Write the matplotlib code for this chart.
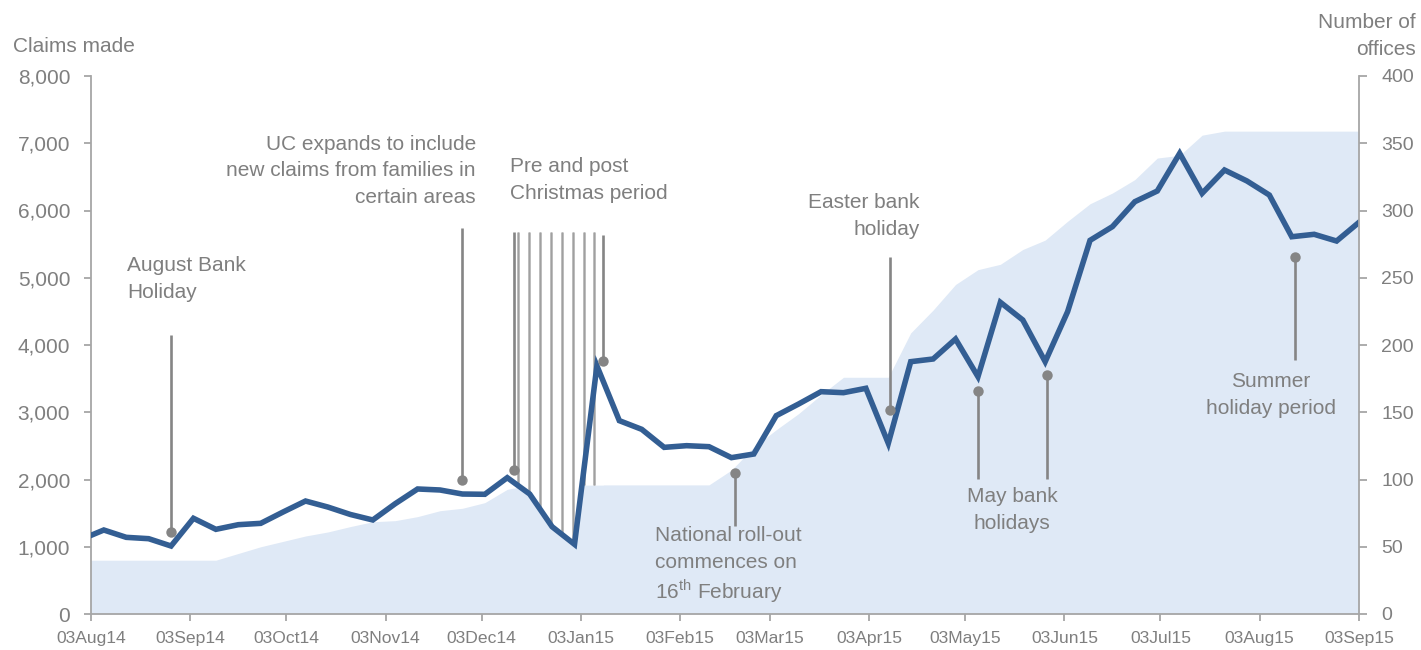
import matplotlib
matplotlib.use('Agg')
import matplotlib.pyplot as plt
import matplotlib.dates as mdates
import numpy as np
import pandas as pd
from matplotlib.ticker import FuncFormatter, MultipleLocator

plt.rcParams['font.family'] = ['Liberation Sans', 'DejaVu Sans']
plt.rcParams['mathtext.fontset'] = 'custom'
plt.rcParams['mathtext.rm'] = 'Liberation Sans'

# ---------------- data ----------------
week_dates = pd.date_range('2014-07-31', '2015-09-03', freq='7D')
claims = [1110, 1249, 1140, 1120, 1011, 1423, 1259, 1328, 1348, 1517,
          1680, 1590, 1480, 1398, 1640, 1859, 1844, 1784, 1780, 2027,
          1784, 1298, 1036, 3690, 2875, 2746, 2478, 2503, 2488, 2325,
          2379, 2949, 3123, 3306, 3291, 3356, 2538, 3752, 3792, 4089,
          3529, 4635, 4372, 3752, 4496, 5556, 5760, 6131, 6290, 6850,
          6255, 6602, 6439, 6230, 5610, 5646, 5546, 5824]
offices = [40, 40, 40, 40, 40, 40, 40, 45, 50, 54,
           58, 61, 65, 68.6, 69.4, 72.4, 76.8, 78.6, 82.8, 92.7,
           96, 96, 96, 96, 96, 96, 96, 96, 96, 107,
           124, 137, 149, 163, 176, 176, 176, 209, 226, 245,
           256, 260, 271, 278, 292, 305, 313, 323, 339, 341,
           356, 359, 359, 359, 359, 359, 359, 359]

tick_dates = pd.date_range('2014-08-03', periods=14, freq=pd.DateOffset(months=1))

# annotations: (date, dot value in claims, other end of stick in claims)
annotations = [
    ('2014-08-28', 1219, 4150),   # August bank holiday
    ('2014-11-27', 1988, 5740),   # UC expands
    ('2014-12-13', 2141, 5680),   # Christmas start
    ('2015-01-10', 3766, 5636),   # Christmas end
    ('2015-02-20', 2092, 1309),   # National roll-out
    ('2015-04-09 12:00', 3033, 5309),  # Easter
    ('2015-05-07', 3321, 2007),   # May bank holiday 1
    ('2015-05-28 12:00', 3554, 2007),  # May bank holiday 2
    ('2015-08-14', 5313, 3777),   # Summer holiday
]
xmas_start, xmas_end = '2014-12-13', '2015-01-10'
hatch_top = 5680

# ---------------- figure ----------------
W, H = 1421, 650
fig = plt.figure(figsize=(W / 100, H / 100), dpi=100)
L, R, B, T = 91, 1359, 614, 76
ax = fig.add_axes([L / W, 1 - B / H, (R - L) / W, (B - T) / H])
ax2 = ax.twinx()

GREY_TXT = '#7F7F7F'
GREY_AX = '#A6A6A6'
LINE_C = '#335E93'
AREA_C = '#DFE9F6'

xd = mdates.date2num(week_dates)
claims = np.array(claims, float)
off_c = np.array(offices, float) * 20.0  # offices on the claims scale (400 -> 8000)

ax.fill_between(xd, 0, off_c, color=AREA_C, lw=0, zorder=1)

# Christmas hatched region
xs, xe = mdates.date2num(pd.Timestamp(xmas_start)), mdates.date2num(pd.Timestamp(xmas_end))
xg = np.linspace(xs, xe, 300)
bottom = np.minimum(np.interp(xg, xd, claims), np.interp(xg, xd, off_c))
ax.fill_between(xg, bottom, hatch_top, color='white', lw=0, zorder=2)
for xv in np.linspace(xs + 1.5, xe - 2.8, 8):
    b = min(np.interp(xv, xd, claims), np.interp(xv, xd, off_c))
    ax.plot([xv, xv], [b, hatch_top], color='#B8B8B8', lw=2.0, zorder=3,
            solid_capstyle='butt')
    ax.plot([xv, xv], [b, hatch_top], color='#A0A0A0', lw=0.8, zorder=3,
            solid_capstyle='butt')

ax.plot(xd, claims, color=LINE_C, lw=4.0, zorder=4, solid_joinstyle='miter')

for d, v, e in annotations:
    xv = mdates.date2num(pd.Timestamp(d))
    ax.plot([xv, xv], [v, e], color='#858585', lw=1.9, zorder=5, solid_capstyle='butt')
    ax.plot([xv], [v], 'o', color='#858585', ms=7.5, mec='none', zorder=6)

# axes styling
ax.set_xlim(mdates.date2num(pd.Timestamp('2014-08-03')), mdates.date2num(pd.Timestamp('2015-09-03')))
ax.set_ylim(0, 8000)
ax2.set_ylim(0, 400)
ax.set_xticks(mdates.date2num(tick_dates))
ax.xaxis.set_major_formatter(mdates.DateFormatter('%d%b%y'))
ax.yaxis.set_major_locator(MultipleLocator(1000))
ax.yaxis.set_major_formatter(FuncFormatter(lambda v, p: f'{int(v):,}'))
ax2.yaxis.set_major_locator(MultipleLocator(50))

for a in (ax, ax2):
    for s in a.spines.values():
        s.set_color(GREY_AX)
        s.set_linewidth(1.3)
    a.spines['top'].set_visible(False)
ax.spines['right'].set_visible(False)
ax2.spines['left'].set_visible(False)
ax2.spines['bottom'].set_visible(False)

ax.tick_params(axis='y', colors=GREY_AX, labelcolor=GREY_TXT, labelsize=15,
               length=5, width=1.3, pad=10)
ax.tick_params(axis='x', colors=GREY_AX, labelcolor=GREY_TXT, labelsize=12.6,
               length=5, width=1.3, pad=7)
ax2.tick_params(axis='y', colors=GREY_AX, labelcolor=GREY_TXT, labelsize=14,
                length=6, width=1.3, pad=10)
ax.patch.set_visible(False)


def ftext(px, py, s, ha='left', size=15, ls=1.52):
    fig.text(px / W, 1 - py / H, s, ha=ha, va='center', color=GREY_TXT,
             fontsize=size, linespacing=ls, multialignment=ha)


ftext(13, 47, 'Claims made')
ftext(1416, 36, 'Number of\noffices', ha='right')
ftext(127, 279, 'August Bank\nHoliday')
ftext(476, 171, 'UC expands to include\nnew claims from families in\ncertain areas', ha='right')
ftext(510, 180, 'Pre and post\nChristmas period')
ftext(920, 216, 'Easter bank\nholiday', ha='right')
ftext(655, 549, 'National roll-out\ncommences on')
ftext(655, 591, '16$^{\\mathrm{th}}$ February')
ftext(1012, 510, 'May bank\nholidays', ha='center')
ftext(1271, 395, 'Summer\nholiday period', ha='center')

fig.savefig('out.png', dpi=100)
